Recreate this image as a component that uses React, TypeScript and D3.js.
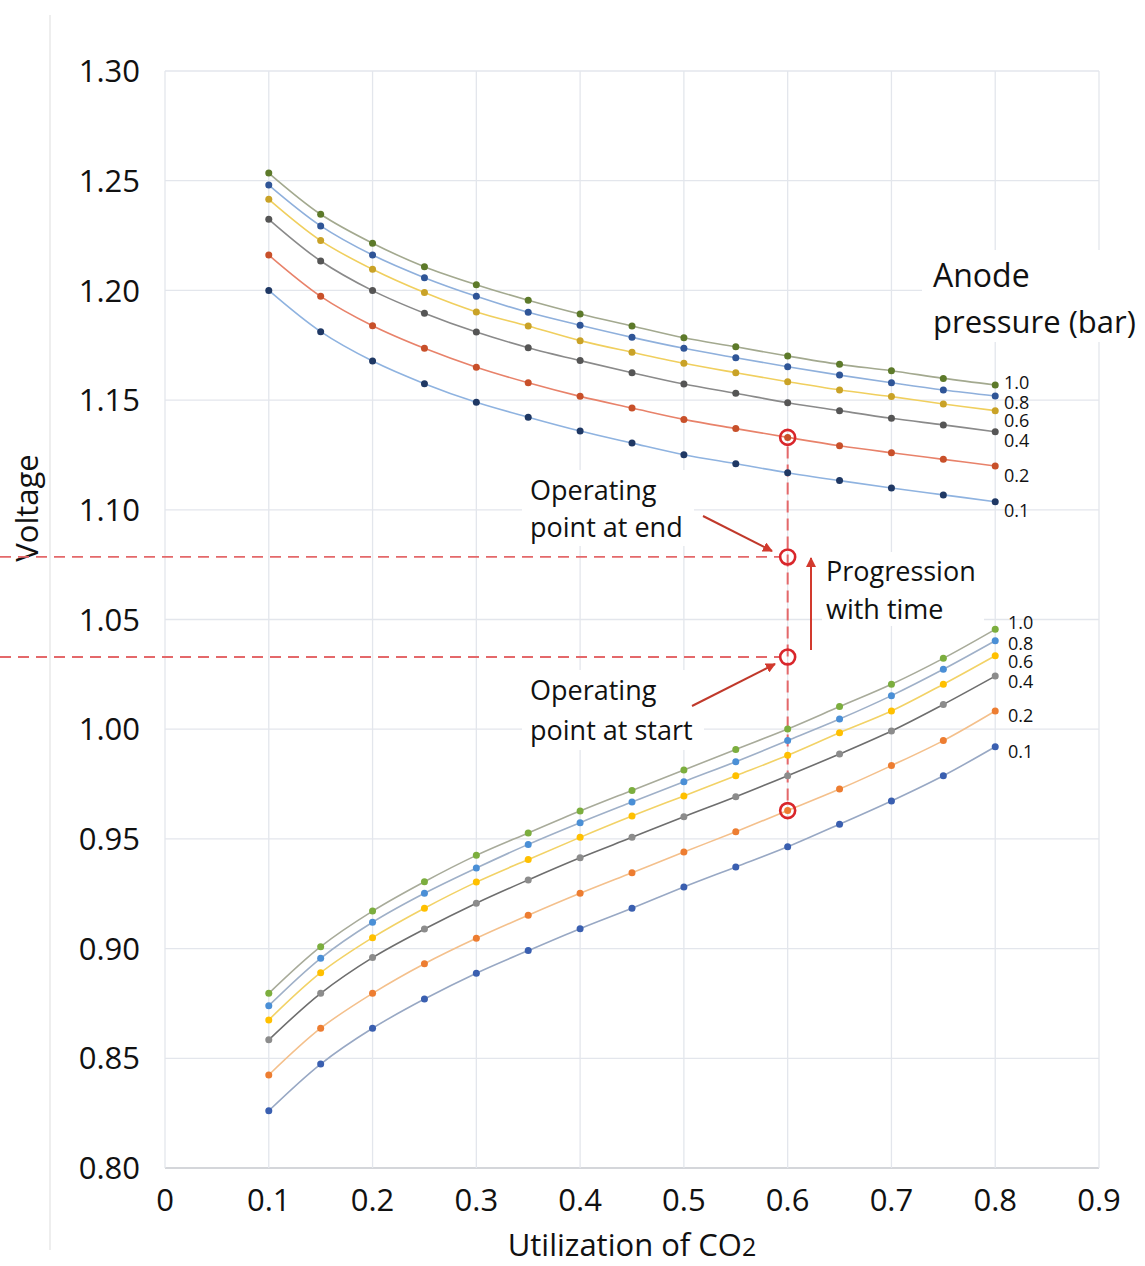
import React from "react";
import * as d3 from "d3";

const X = [0.1, 0.15, 0.2, 0.25, 0.3, 0.35, 0.4, 0.45, 0.5, 0.55, 0.6, 0.65, 0.7, 0.75, 0.8];
const pressures = ["1.0", "0.8", "0.6", "0.4", "0.2", "0.1"];

const up10 = [1.2535, 1.2347, 1.2215, 1.2108, 1.2026, 1.1955, 1.1892, 1.1838, 1.1784, 1.1743, 1.1701, 1.1663, 1.1634, 1.1599, 1.1569];
const up08 = [1.2480, 1.2294, 1.2161, 1.2058, 1.1973, 1.1900, 1.1841, 1.1786, 1.1736, 1.1693, 1.1652, 1.1614, 1.1579, 1.1546, 1.1519];
const up06 = [1.2415, 1.2227, 1.2096, 1.1990, 1.1902, 1.1838, 1.1771, 1.1718, 1.1668, 1.1625, 1.1584, 1.1546, 1.1516, 1.1482, 1.1452];
const up04 = [1.2324, 1.2134, 1.1999, 1.1896, 1.1810, 1.1739, 1.1680, 1.1625, 1.1573, 1.1531, 1.1488, 1.1452, 1.1417, 1.1387, 1.1356];
const up02 = [1.2161, 1.1973, 1.1839, 1.1736, 1.1650, 1.1579, 1.1517, 1.1464, 1.1412, 1.1370, 1.1330, 1.1292, 1.1260, 1.1230, 1.1200];
const up01 = [1.2000, 1.1812, 1.1678, 1.1575, 1.1490, 1.1422, 1.1359, 1.1304, 1.1251, 1.1210, 1.1169, 1.1133, 1.1099, 1.1068, 1.1037];

const lo10 = [0.8796, 0.9009, 0.9171, 0.9305, 0.9425, 0.9527, 0.9627, 0.9721, 0.9814, 0.9908, 1.0001, 1.0103, 1.0205, 1.0323, 1.0455];
const lo08 = [0.8740, 0.8956, 0.9120, 0.9252, 0.9367, 0.9475, 0.9574, 0.9668, 0.9761, 0.9852, 0.9948, 1.0046, 1.0153, 1.0273, 1.0403];
const lo06 = [0.8675, 0.8890, 0.9050, 0.9184, 0.9303, 0.9406, 0.9507, 0.9604, 0.9696, 0.9788, 0.9881, 0.9984, 1.0083, 1.0205, 1.0335];
const lo04 = [0.8584, 0.8796, 0.8959, 0.9089, 0.9207, 0.9313, 0.9414, 0.9507, 0.9601, 0.9692, 0.9788, 0.9887, 0.9992, 1.0113, 1.0242];
const lo02 = [0.8424, 0.8637, 0.8796, 0.8931, 0.9047, 0.9152, 0.9252, 0.9346, 0.9440, 0.9533, 0.9629, 0.9727, 0.9834, 0.9948, 1.0083];
const lo01 = [0.8261, 0.8474, 0.8637, 0.8770, 0.8888, 0.8991, 0.9091, 0.9184, 0.9281, 0.9372, 0.9464, 0.9567, 0.9673, 0.9788, 0.9920];

const upperSeries = [up10, up08, up06, up04, up02, up01];
const lowerSeries = [lo10, lo08, lo06, lo04, lo02, lo01];

const upperLine = ["#a3a98f", "#8fb0dc", "#f0cf5e", "#8a8a8a", "#e8826a", "#8fb3e0"];
const upperDot = ["#5d7a2a", "#2f5597", "#c9a227", "#555555", "#c8502a", "#1f3864"];
const lowerLine = ["#a8ab9a", "#9fb0c8", "#f2d266", "#6e6e6e", "#f4c08c", "#98a8c4"];
const lowerDot = ["#7cae3e", "#4a8fd6", "#ffc000", "#8c8c8c", "#ed7d31", "#3a5fb0"];

const xTicks = [0, 0.1, 0.2, 0.3, 0.4, 0.5, 0.6, 0.7, 0.8, 0.9];
const yTicks = [0.8, 0.85, 0.9, 0.95, 1.0, 1.05, 1.1, 1.15, 1.2, 1.25, 1.3];

const opX = 0.6;
const opUpper = 1.133;
const opEnd = 1.0785;
const opStart = 1.0329;
const opLower = 0.9629;

const FONT = "'Open Sans', Lato, sans-serif";

export default function App() {
  const x = d3.scaleLinear().domain([0, 0.9]).range([165, 1099]);
  const y = d3.scaleLinear().domain([0.8, 1.3]).range([1168, 71]);
  const line = d3
    .line<number>()
    .x((_, i) => x(X[i]))
    .y((d) => y(d))
    .curve(d3.curveCatmullRom.alpha(0.5));

  const ox = x(opX);
  const red = "#d9262b";
  const dashRed = "#e4686a";

  const upLabelY = [383, 403, 421, 441, 476, 511];
  const loLabelY = [623, 644, 662, 682, 716, 752];

  return (
    <svg
      width={1145}
      height={1266}
      style={{ position: "absolute", left: 0, top: 0, background: "#fff" }}
      fontFamily={FONT}
    >
      <defs>
        <marker id="ah" viewBox="0 0 10 10" refX="9" refY="5" markerWidth="5" markerHeight="5" orient="auto-start-reverse">
          <path d="M0,0 L10,5 L0,10 z" fill="#d23a2e" />
        </marker>
      </defs>
      <rect x={0} y={0} width={1145} height={1266} fill="#fff" />
      <line x1={50} x2={50} y1={15} y2={1250} stroke="#e8e8e8" strokeWidth={1.5} />

      {/* grid */}
      {yTicks.map((t) => (
        <line key={"gy" + t} x1={x(0)} x2={x(0.9)} y1={y(t)} y2={y(t)} stroke={t === 0.8 ? "#d4d6da" : "#e3e6ec"} strokeWidth={t === 0.8 ? 2 : 1.3} />
      ))}
      {xTicks.map((t) => (
        <line key={"gx" + t} x1={x(t)} x2={x(t)} y1={y(1.3)} y2={y(0.8)} stroke="#e3e6ec" strokeWidth={1.3} />
      ))}

      {/* tick labels */}
      {yTicks.map((t) => (
        <text key={"ty" + t} x={140} y={y(t)} dy="0.36em" textAnchor="end" fontSize={31} fill="#111">
          {t.toFixed(2)}
        </text>
      ))}
      {xTicks.map((t) => (
        <text key={"tx" + t} x={x(t)} y={1200} dy="0.36em" textAnchor="middle" fontSize={31} fill="#111">
          {t === 0 ? "0" : t.toFixed(1)}
        </text>
      ))}

      <text transform="translate(27,508) rotate(-90)" textAnchor="middle" dy="0.36em" fontSize={31} fill="#111">
        Voltage
      </text>
      <text x={632} y={1245} textAnchor="middle" dy="0.36em" fontSize={31} fill="#111">
        Utilization of CO<tspan fontSize={25}>2</tspan>
      </text>

      {/* text boxes with white background */}
      <rect x={922} y={250} width={223} height={92} fill="#fff" />
      <text x={933} y={275} dy="0.36em" fontSize={32} fill="#111">Anode</text>
      <text x={933} y={322} dy="0.36em" fontSize={31} fill="#111">pressure (bar)</text>

      {/* dashed guides */}
      <line x1={0} x2={ox - 8} y1={y(opEnd)} y2={y(opEnd)} stroke={dashRed} strokeWidth={1.8} strokeDasharray="11 7" />
      <line x1={0} x2={ox - 8} y1={y(opStart)} y2={y(opStart)} stroke={dashRed} strokeWidth={1.8} strokeDasharray="11 7" />
      <line x1={ox} x2={ox} y1={y(opUpper) + 9} y2={y(opLower) - 9} stroke={dashRed} strokeWidth={2} strokeDasharray="12 6" />

      {/* series */}
      {upperSeries.map((s, k) => (
        <g key={"u" + k}>
          <path d={line(s) || ""} fill="none" stroke={upperLine[k]} strokeWidth={1.6} />
          {s.map((v, i) => (
            <circle key={i} cx={x(X[i])} cy={y(v)} r={3.5} fill={upperDot[k]} />
          ))}
          <text x={1004} y={upLabelY[k]} dy="0.36em" fontSize={18} fill="#111">{pressures[k]}</text>
        </g>
      ))}
      {lowerSeries.map((s, k) => (
        <g key={"l" + k}>
          <path d={line(s) || ""} fill="none" stroke={lowerLine[k]} strokeWidth={1.6} />
          {s.map((v, i) => (
            <circle key={i} cx={x(X[i])} cy={y(v)} r={3.5} fill={lowerDot[k]} />
          ))}
          <text x={1008} y={loLabelY[k]} dy="0.36em" fontSize={18} fill="#111">{pressures[k]}</text>
        </g>
      ))}

      {/* operating point circles */}
      {[opUpper, opEnd, opStart, opLower].map((v) => (
        <circle key={"op" + v} cx={ox} cy={y(v)} r={7.5} fill="none" stroke={red} strokeWidth={2.6} />
      ))}

      {/* annotation texts */}
      <rect x={522} y={470} width={172} height={76} fill="#fff" />
      <text x={530} y={490} dy="0.36em" fontSize={27} fill="#111">Operating</text>
      <text x={530} y={527} dy="0.36em" fontSize={27} fill="#111">point at end</text>
      <line x1={703} y1={516} x2={772} y2={551} stroke="#c0392b" strokeWidth={2} markerEnd="url(#ah)" />

      <rect x={522} y={670} width={182} height={80} fill="#fff" />
      <text x={530} y={690} dy="0.36em" fontSize={27} fill="#111">Operating</text>
      <text x={530} y={730} dy="0.36em" fontSize={27} fill="#111">point at start</text>
      <line x1={692} y1={706} x2={775} y2={664} stroke="#c0392b" strokeWidth={2} markerEnd="url(#ah)" />

      <line x1={811} y1={650} x2={811} y2={558} stroke="#d23a2e" strokeWidth={2} markerEnd="url(#ah)" />
      <rect x={822} y={552} width={162} height={74} fill="#fff" />
      <text x={826} y={571} dy="0.36em" fontSize={27} fill="#111">Progression</text>
      <text x={826} y={609} dy="0.36em" fontSize={27} fill="#111">with time</text>
    </svg>
  );
}
